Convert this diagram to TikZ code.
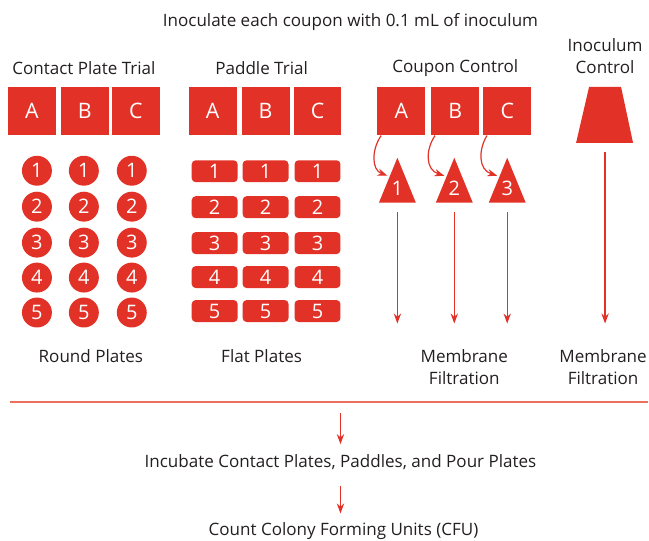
\documentclass[tikz,border=0pt]{standalone}
\usepackage{fontspec}
\setmainfont{Open Sans}
\usetikzlibrary{arrows.meta}
\definecolor{cred}{RGB}{226,50,39}
\definecolor{cline}{RGB}{234,112,92}
\definecolor{ctext}{RGB}{35,31,32}

\begin{document}
\begin{tikzpicture}[x=0.75pt,y=0.75pt,yscale=-1,xscale=1,
  lbl/.style={text=ctext,font=\fontsize{12.8}{16.5}\selectfont,align=center,inner sep=0.75pt},
  sqbox/.style={fill=cred,text=white,minimum width=36pt,minimum height=36pt,inner sep=0pt,font=\fontsize{16}{16}\selectfont},
  disc/.style={circle,fill=cred,text=white,minimum size=22.5pt,inner sep=0pt,font=\fontsize{15}{15}\selectfont},
  paddle/.style={rounded corners=3pt,fill=cred,text=white,minimum width=34.5pt,minimum height=16.5pt,inner sep=0pt,font=\fontsize{15}{15}\selectfont},
  num/.style={text=white,inner sep=0pt,font=\fontsize{15}{15}\selectfont},
  arr/.style={draw=cred,line width=0.9pt,-{Stealth[length=7.5pt,width=5.5pt]}}]
\path (0,0) rectangle (649,541);

% Titles
\node[lbl] (head) at (351,22) {Inoculate each coupon with 0.1 mL of inoculum};
\node[lbl] (tcp) at (84,68) {Contact Plate Trial};
\node[lbl] (tpd) at (262,68) {Paddle Trial};
\node[lbl] (tcc) at (456,68) {Coupon Control};
\node[lbl] (tic) at (606,56) {Inoculum\\Control};

% Coupon boxes
\foreach \n/\x/\l in {pA/32/A,pB/85/B,pC/136/C,dA/213/A,dB/266/B,dC/318/C,cA/402/A,cB/456/B,cC/508/C}
  \node[sqbox] (\n) at (\x,111.5) {\l};

% Round plates
\foreach \c [count=\i] in {37,84,132}
  \foreach \r [count=\j] in {171,207,243,278,313}
    \node[disc] (r\i\j) at (\c,\r) {\j};

% Flat plates
\foreach \c [count=\i] in {215,266,318}
  \foreach \r [count=\j] in {171.5,207.5,243.5,277.5,311.5}
    \node[paddle] (f\i\j) at (\c,\r) {\j};

% Filter triangles
\foreach \x [count=\i] in {398,455,508} {
  \fill[cred] (\x-18.5,203) -- (\x,158) -- (\x+18.5,203) -- cycle;
  \node[num] (t\i) at (\x,189) {\i};
  \coordinate (e\i) at (\x-10,176);
  \coordinate (m\i) at (\x,324);
  \draw[arr] (t\i) ++(0,23) -- (m\i);
}
\draw[arr] ([xshift=3pt]cA.south west) .. controls (372,150) and (372,170) .. (e1);
\draw[arr] ([xshift=3pt]cB.south west) .. controls (426,150) and (426,170) .. (e2);
\draw[arr] ([xshift=3pt]cC.south west) .. controls (479,150) and (479,170) .. (e3);

% Inoculum control
\fill[cred] (590,87) -- (622,87) -- (634,143) -- (577,143) -- cycle;
\coordinate (ib) at (606,152);
\coordinate (im) at (606,324);
\draw[arr] (ib) -- (im);

% Plate labels
\node[lbl] (lrp) at (91,357) {Round Plates};
\node[lbl] (lfp) at (262,357) {Flat Plates};
\node[lbl] (lm1) at (465,368) {Membrane\\Filtration};
\node[lbl] (lm2) at (604,368) {Membrane\\Filtration};

% Divider and final steps
\draw[cline,line width=1.5pt] (10,403) -- (649,403);
\coordinate (cut) at (341,414);
\node[lbl] (incub) at (341,463) {Incubate Contact Plates, Paddles, and Pour Plates};
\node[lbl] (cfu) at (344,532) {Count Colony Forming Units (CFU)};
\draw[arr,shorten >=7pt] (cut) -- (incub);
\draw[arr,shorten <=11pt,shorten >=6pt] (incub) -- (incub |- cfu.north);
\end{tikzpicture}
\end{document}
